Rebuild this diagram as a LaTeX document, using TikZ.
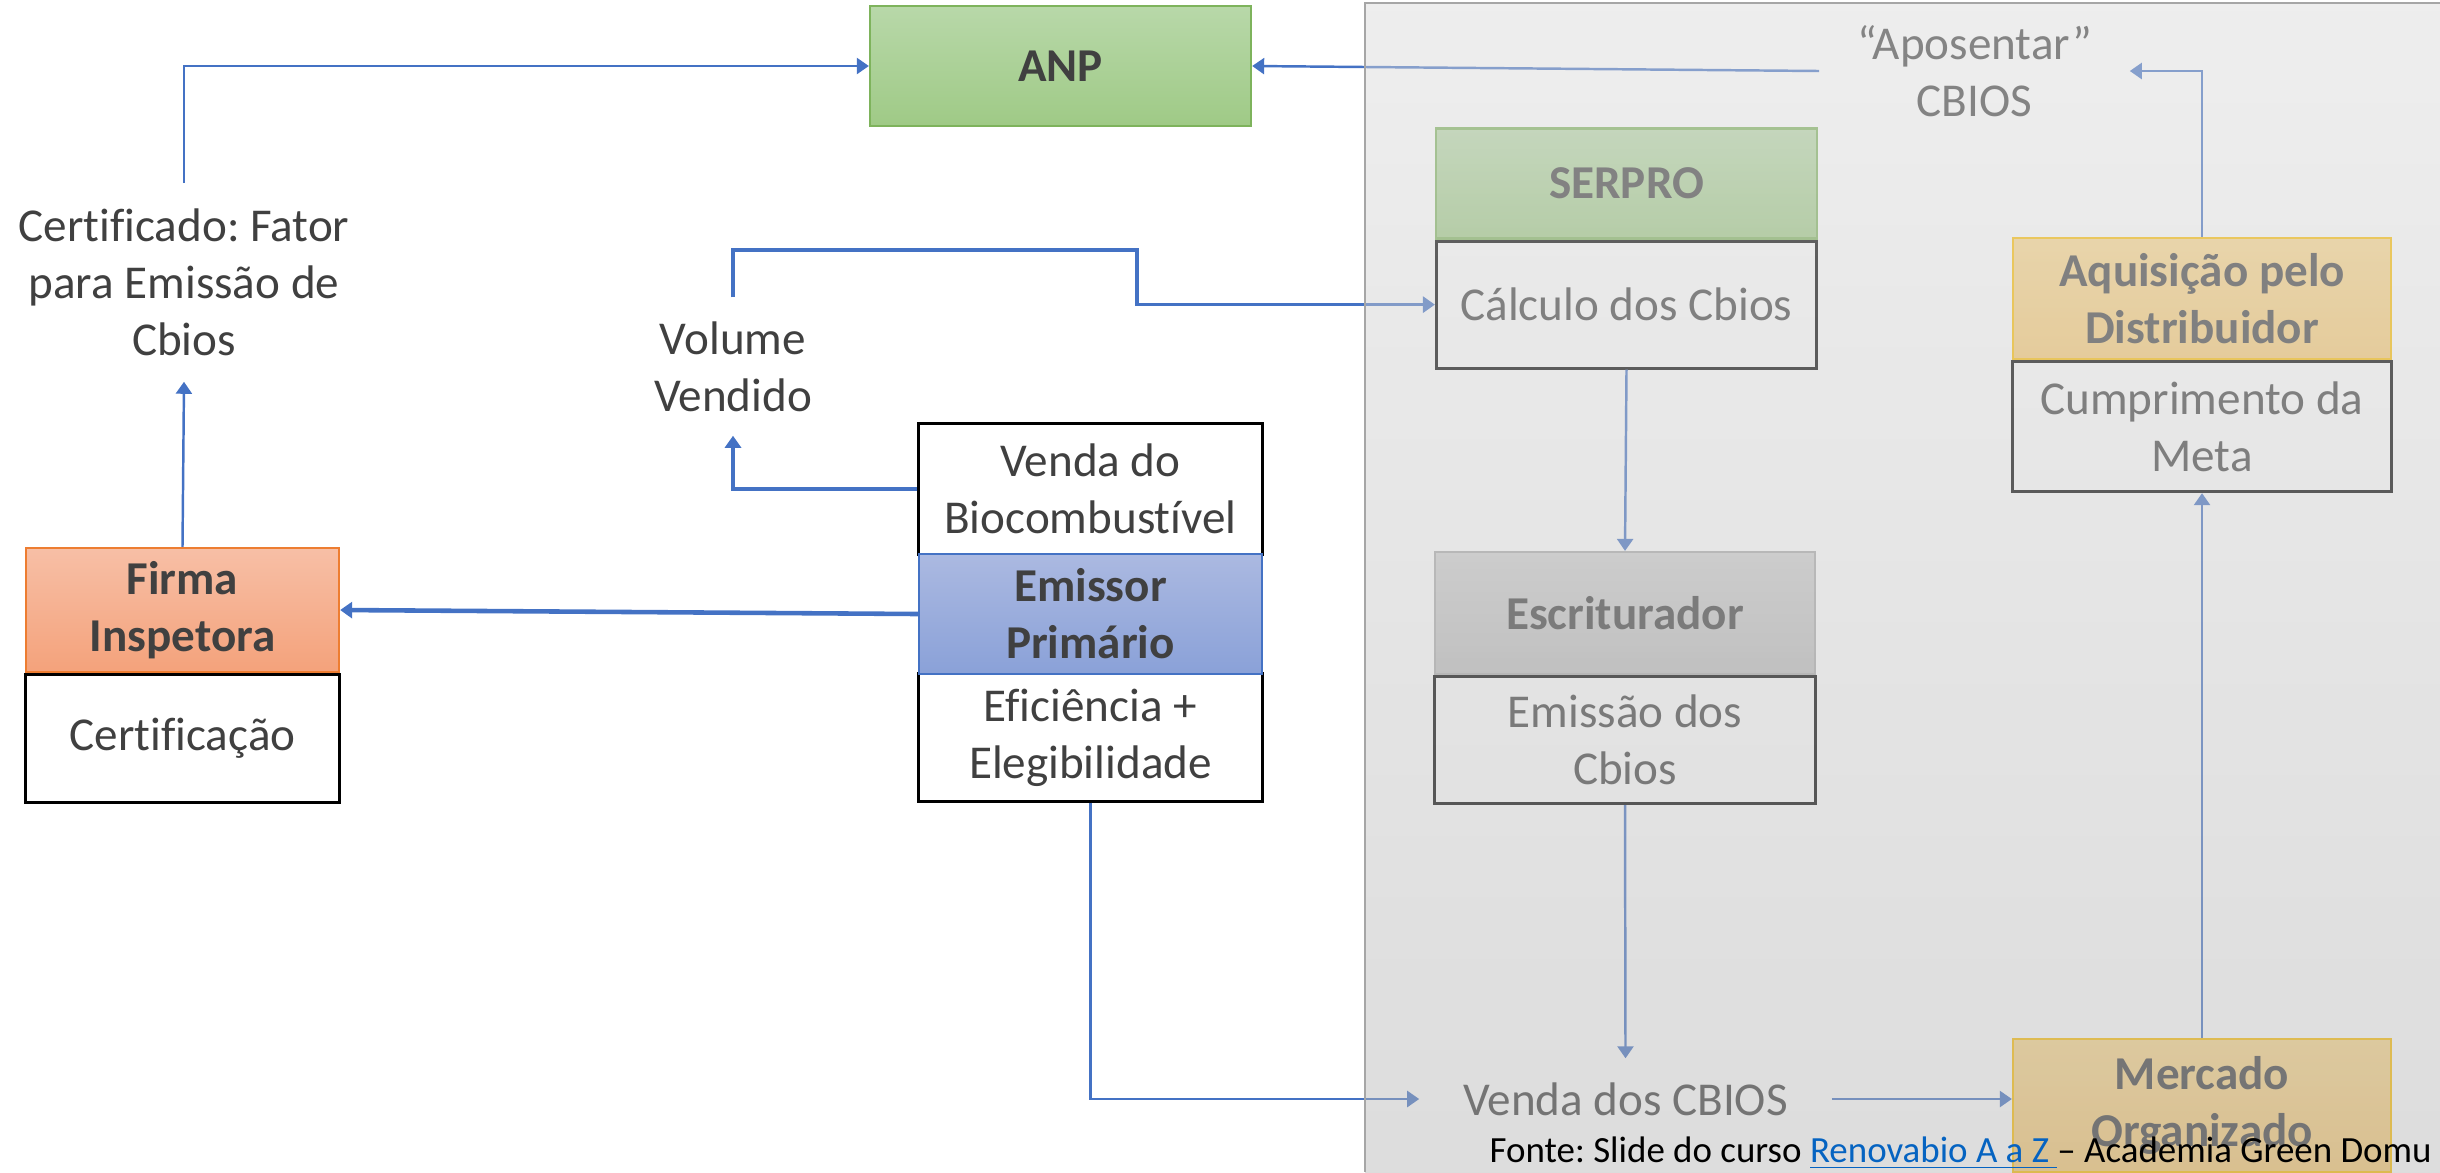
\documentclass[tikz,border=0pt]{standalone}
\usepackage{fontspec}
\setmainfont{Carlito}[Ligatures=CommonOff]
\usetikzlibrary{positioning,arrows.meta}
\frenchspacing

\definecolor{txtgray}{HTML}{404040}
\definecolor{arrblue}{HTML}{4472C4}
\definecolor{linkblue}{HTML}{0563C1}
\definecolor{anpT}{HTML}{B8D8A9}
\definecolor{anpB}{HTML}{9FCA86}
\definecolor{anpE}{HTML}{7EB35C}
\definecolor{firT}{HTML}{F7BFA6}
\definecolor{firB}{HTML}{F4A27B}
\definecolor{firE}{HTML}{ED7D31}
\definecolor{emiT}{HTML}{ABB9E1}
\definecolor{emiB}{HTML}{8AA1D8}
\definecolor{emiE}{HTML}{4472C4}
\definecolor{escT}{HTML}{D2D2D2}
\definecolor{escB}{HTML}{BFBFBF}
\definecolor{escE}{HTML}{ADADAD}
\definecolor{gldT}{HTML}{FCD88C}
\definecolor{gldB}{HTML}{F9CB74}
\definecolor{gldE}{HTML}{FFC000}

\begin{document}
\begin{tikzpicture}[x=0.01cm, y=-0.01cm,
    every node/.style={font=\fontsize{13.4}{16.2}\selectfont, text=txtgray, inner sep=0pt, align=center},
    head/.style={line width=0.6pt, font=\fontsize{13.4}{16.2}\selectfont\bfseries},
    sub/.style={draw=black, line width=0.85pt, fill=white},
    arr/.style={draw=arrblue, line width=0.7pt, -{Triangle[length=0.12cm,width=0.16cm]}}]
    \useasboundingbox (0,0) rectangle (2440,1172);

    \node[head, draw=anpE, top color=anpT, bottom color=anpB, minimum width=3.81cm, minimum height=1.2cm] (anp) at (1060.5,66) {ANP};

    \node[head, draw=firE, top color=firT, bottom color=firB, minimum width=3.13cm, minimum height=1.24cm] (firma) at (182.5,610) {Firma\\Inspetora};
    \node[sub, minimum width=3.13cm, minimum height=1.28cm] (cert) [below=0pt of firma] {Certificação};

    \node[sub, minimum width=3.43cm, minimum height=1.3cm] (venda) at (1090.5,489) {Venda do\\Biocombustível};
    \node[sub, minimum width=3.43cm, minimum height=1.27cm] (efic) at (1090.5,737.5) {Eficiência +\\Elegibilidade};
    \node[head, draw=emiE, top color=emiT, bottom color=emiB, minimum width=3.43cm, minimum height=1.2cm] (emissor) at (1090.5,614) {Emissor\\Primário};

    \node[minimum width=3.6cm, minimum height=1.97cm] (certtxt) at (184,282.5) {Certificado: Fator\\para Emissão de\\Cbios};
    \node[minimum width=1.2cm, minimum height=1.37cm] (volume) at (733,366.5) {Volume\\Vendido};

    \node[head, draw=anpE, top color=anpT, bottom color=anpB, minimum width=3.8cm, minimum height=1.1cm] (serpro) at (1626.5,183.5) {SERPRO};
    \node[sub, minimum width=3.8cm, minimum height=1.27cm] (calc) [below=0pt of serpro] {Cálculo dos Cbios};

    \node[head, draw=escE, top color=escT, bottom color=escB, minimum width=3.8cm, minimum height=1.22cm] (escr) at (1625,613) {Escriturador};
    \node[sub, minimum width=3.8cm, minimum height=1.27cm] (emis) [below=0pt of escr] {Emissão dos\\Cbios};

    \node[head, draw=gldE, top color=gldT, bottom color=gldB, minimum width=3.78cm, minimum height=1.21cm] (aquis) at (2202,298.5) {Aquisição pelo\\Distribuidor};
    \node[sub, minimum width=3.78cm, minimum height=1.3cm] (cumpr) [below=0pt of aquis] {Cumprimento da\\Meta};

    \node[head, draw=gldE, top color=gldT, bottom color=gldB, minimum width=3.78cm, minimum height=1.33cm] (mercado) at (2202,1105.5) {Mercado\\Organizado};

    \node[minimum width=3.09cm, minimum height=0.9cm] (apos) at (1974.5,71) {“Aposentar”\\CBIOS};
    \node[minimum width=4.11cm, minimum height=0.8cm] (vendacb) at (1625.5,1099) {Venda dos CBIOS};

    \draw[arr] (certtxt.north) |- (anp.west);
    \draw[arr] (firma.north) -- (certtxt.south);
    \draw[arr, line width=1.3pt] (emissor.west) -- (firma.east);
    \draw[arr, line width=0.9pt] (venda.west) -| (volume.south);
    \draw[arr, line width=0.9pt] (volume.north) |- (1137,250) |- (calc.west);
    \draw[arr] (calc.south) -- (escr.north);
    \draw[arr] (emis.south) -- (vendacb.north);
    \draw[arr] (efic.south) |- (vendacb.west);
    \draw[arr] (vendacb.east) -- (vendacb.east -| mercado.west);
    \draw[arr] (mercado.north) -- (cumpr.south);
    \draw[arr] (aquis.north) |- (apos.east);
    \draw[arr] (apos.west) -- (anp.east);

    \shade[top color=black!15, bottom color=black!30, fill opacity=0.45] (1365,3) rectangle (2440,1172);
    \draw[draw=black!35, line width=0.6pt] (1365,1172) -- (1365,3) -- (2440,3);

    \node[anchor=base west, font=\fontsize{10.5}{12.6}\selectfont, text=black] (fonte) at (1489,1162) {Fonte: Slide do curso \textcolor{linkblue}{\underline{Renovabio A a Z }}– Academia Green Domu};
\end{tikzpicture}
\end{document}
